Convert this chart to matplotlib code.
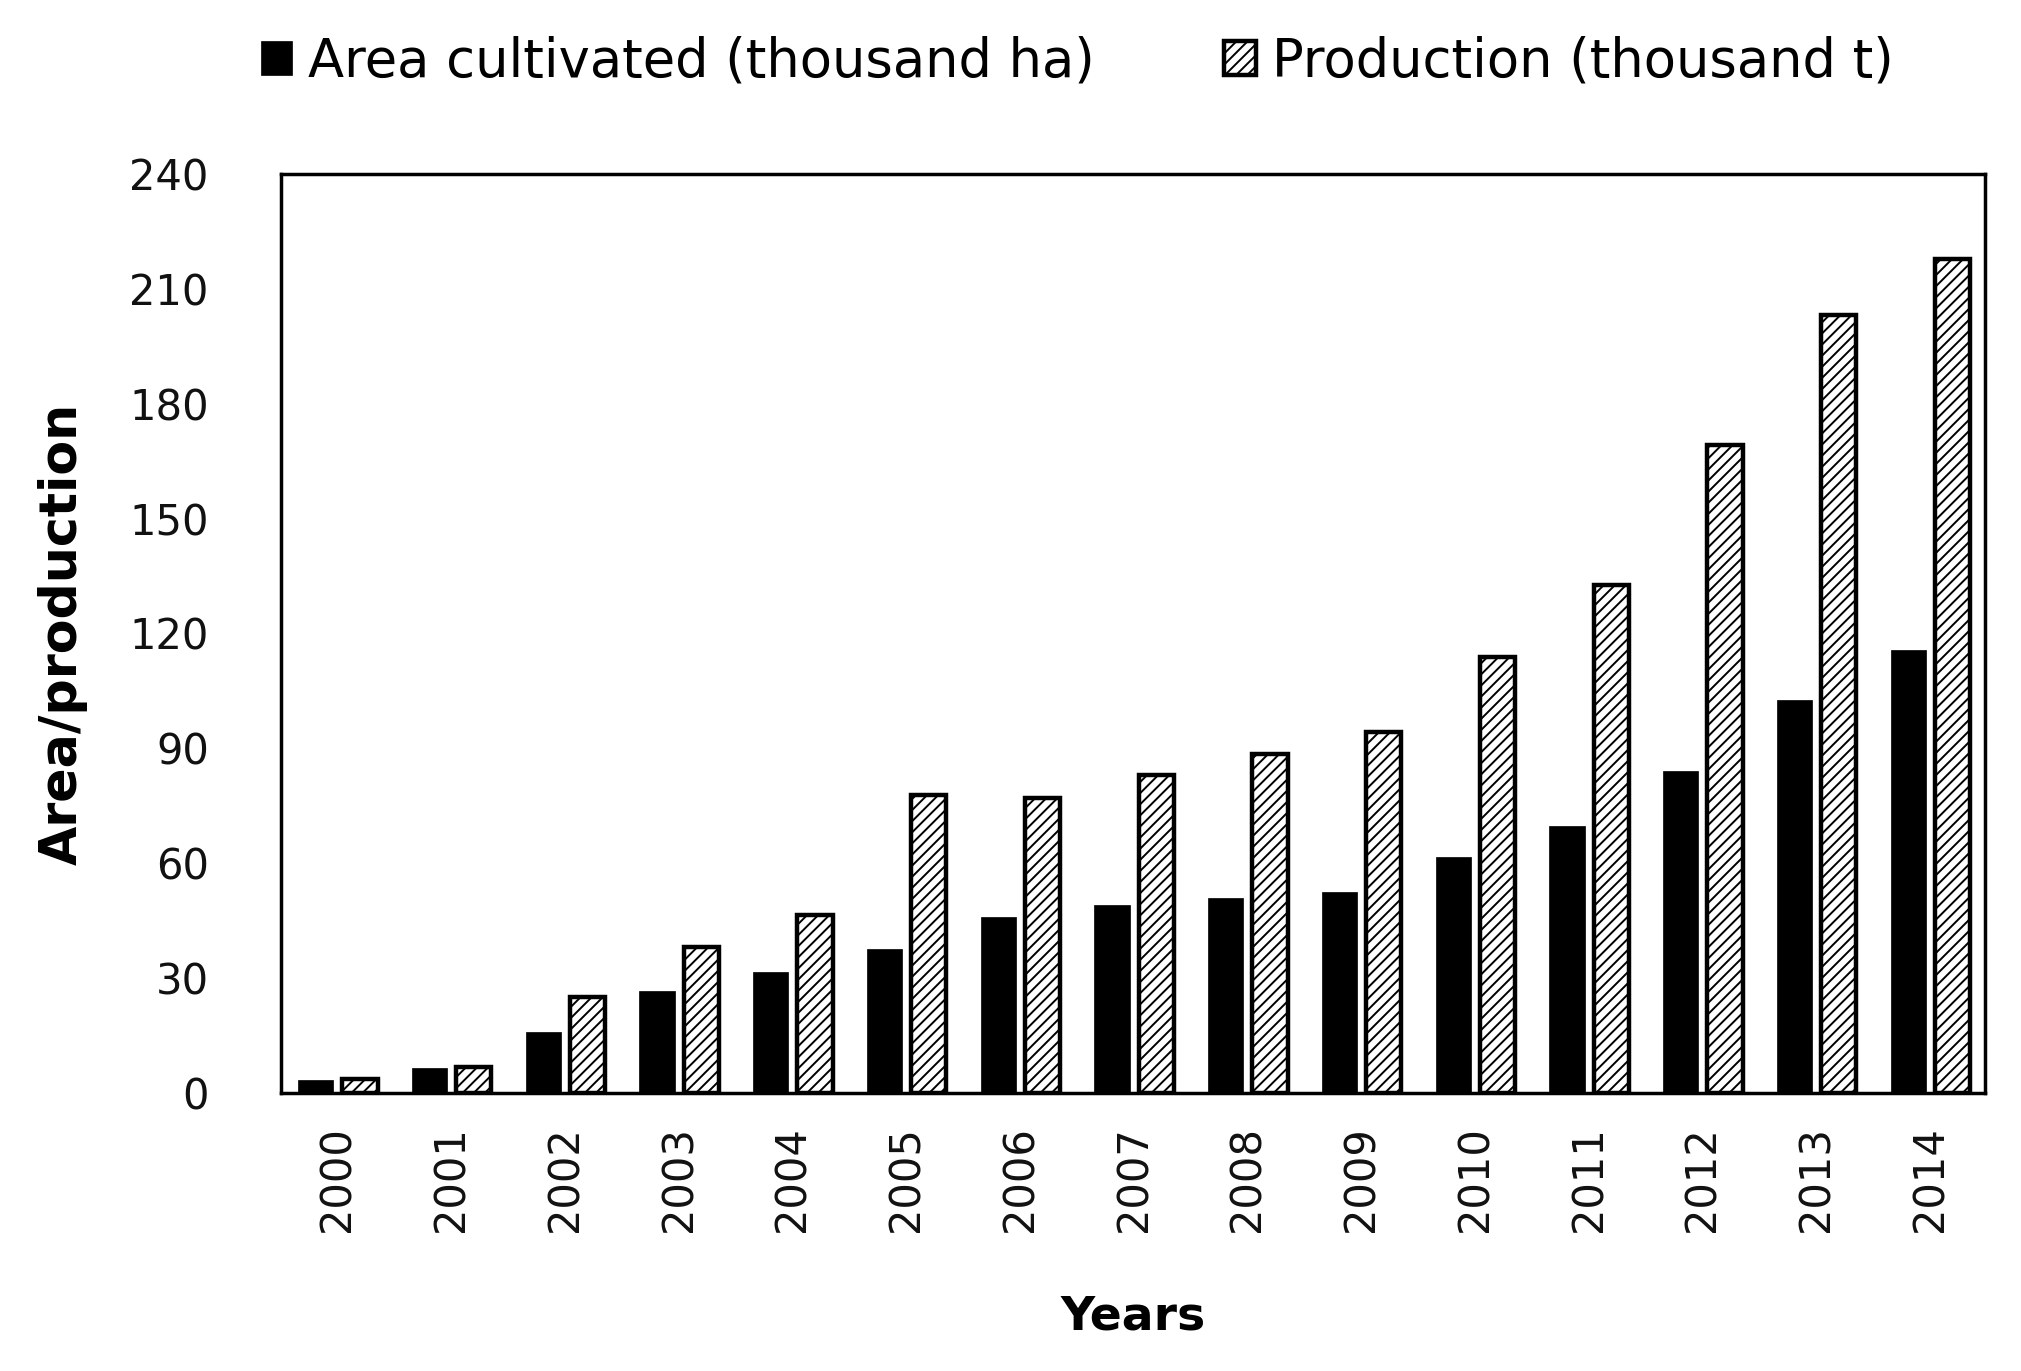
import numpy as np
import matplotlib
matplotlib.use('Agg')
import matplotlib.pyplot as plt

years = ['2000', '2001', '2002', '2003', '2004', '2005', '2006', '2007',
         '2008', '2009', '2010', '2011', '2012', '2013', '2014']
area = [3.4, 6.4, 16, 26.6, 31.6, 37.7, 46, 49, 51, 52.5, 61.6, 69.7, 84, 102.7, 115.8]
production = [3.7, 6.7, 25, 38, 46.4, 77.7, 77, 83, 88.5, 94.2, 113.8, 132.6, 169.3, 203.3, 217.8]

plt.rcParams['hatch.linewidth'] = 1.4

fig = plt.figure(figsize=(20.21, 13.71), dpi=100)
ax = fig.add_axes([281 / 2021, 1 - 1093 / 1371, (1985 - 281) / 2021, (1093 - 174) / 1371])

x = np.arange(len(years))
w = 0.31
ax.bar(x - 0.195, area, w, color='black', edgecolor='black', linewidth=0.5,
       label='Area cultivated (thousand ha)')
ax.bar(x + 0.195, production, w, color='white', edgecolor='black', linewidth=3.2,
       hatch='///', label='Production (thousand t)')

ax.set_xlim(-0.5, 14.48)
ax.set_ylim(0, 240)
ax.set_yticks(range(0, 241, 30))
ax.set_xticks(x)
ax.set_xticklabels(years, rotation=90)
ax.tick_params(axis='both', length=0, labelsize=30, colors='#111111')
ax.tick_params(axis='y', pad=52)
ax.tick_params(axis='x', pad=24)
for s in ax.spines.values():
    s.set_linewidth(2.5)

ax.set_ylabel('Area/production', fontsize=36.5, fontweight='bold', labelpad=30)
ax.set_xlabel('Years', fontsize=34, fontweight='bold', labelpad=45)

fig.legend(loc='center', bbox_to_anchor=(0.533, 0.955), ncol=2, frameon=False,
           fontsize=38, handlelength=0.6, handleheight=0.6, handletextpad=0.3,
           columnspacing=2.45)

fig.savefig('out.png', dpi=100)
